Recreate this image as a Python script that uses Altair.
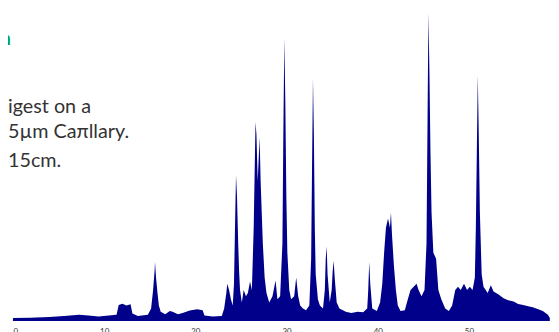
import altair as alt
import pandas as pd

# retention time (min) and intensity (% of max)
t_a = [0.0, 1.84, 4.0, 5.6, 7.25, 8.3, 9.4, 10.5, 11.36, 11.6, 12.0, 12.45, 12.9, 13.1, 13.7,
       14.8, 15.15, 15.37, 15.53, 15.58, 15.69, 15.85, 16.0, 16.2, 16.7, 17.2, 17.5, 18.1,
       18.6, 19.4, 20.2, 20.8, 21.0, 21.9, 22.9]
v_a = [1.0, 1.1, 1.3, 1.6, 2.0, 1.8, 1.5, 1.8, 2.0, 5.2, 5.6, 5.0, 5.4, 2.4, 1.6,
       2.0, 4.0, 10.0, 16.0, 19.0, 14.0, 9.0, 5.0, 3.0, 2.2, 3.2, 3.0, 2.2,
       2.6, 3.4, 3.8, 3.5, 1.8, 1.5, 1.6]

t_b = [23.16, 23.4, 23.5, 23.7, 23.9, 24.1, 24.24, 24.35, 24.46, 24.57, 24.7, 24.8, 24.9,
       25.1, 25.3, 25.55, 25.76, 26.0, 26.2, 26.4, 26.6, 26.7, 26.84, 27.05, 27.16, 27.4,
       27.6, 27.8, 28.1, 28.46, 28.8, 29.0, 29.3, 29.55, 29.65, 29.76, 29.87, 29.98, 30.09,
       30.3, 30.5, 30.84, 31.06, 31.28, 31.5, 31.8, 32.14, 32.5, 32.7, 32.8, 32.9, 33.0,
       33.1, 33.2, 33.44, 33.66, 34.0, 34.2, 34.3, 34.4, 34.5, 34.74, 34.95, 35.06, 35.17,
       35.28, 35.5, 35.8, 36.5, 37.1, 37.8, 38.4]
v_b = [4.0, 9.0, 12.0, 10.0, 7.0, 5.0, 12.0, 30.0, 47.0, 40.0, 25.0, 16.0, 10.0,
       6.0, 10.0, 8.0, 9.0, 12.7, 10.0, 30.0, 64.0, 60.0, 45.0, 59.0, 45.0, 25.0,
       14.0, 9.0, 6.0, 8.0, 13.0, 7.0, 8.0, 25.0, 60.0, 91.0, 70.0, 40.0, 22.0,
       10.0, 7.0, 8.0, 14.0, 8.0, 5.0, 4.0, 3.5, 5.0, 20.0, 50.0, 78.0, 60.0,
       30.0, 15.0, 7.0, 5.0, 4.0, 10.0, 20.0, 24.0, 15.0, 6.0, 10.0, 16.0, 19.4,
       14.0, 6.0, 4.0, 3.0, 2.6, 3.0, 2.8]

t_c = [38.85, 38.96, 39.07, 39.18, 39.4, 39.9, 40.26, 40.5, 40.7, 40.9, 41.13, 41.34, 41.45,
       41.56, 41.77, 41.99, 42.2, 42.5, 42.97, 43.3, 43.6, 43.94, 44.26, 44.48, 44.8, 45.13,
       45.35, 45.45, 45.56, 45.67, 45.78, 45.9, 46.1, 46.4, 46.65, 46.97, 47.4, 47.8]
v_c = [4.0, 10.0, 19.0, 12.0, 4.0, 3.2, 6.0, 12.0, 22.0, 30.0, 33.0, 30.0, 35.0,
       28.0, 18.0, 10.0, 5.0, 3.2, 3.5, 7.0, 10.0, 11.0, 12.0, 10.0, 8.0, 10.0,
       25.0, 60.0, 99.0, 80.0, 55.0, 35.0, 22.0, 20.0, 10.0, 7.0, 4.0, 3.2]

t_d = [48.16, 48.5, 48.8, 49.1, 49.46, 49.8, 50.1, 50.4, 50.65, 50.76, 50.87, 50.97, 51.08,
       51.2, 51.4, 51.6, 52.06, 52.4, 52.7, 53.25, 53.8, 54.3, 54.9, 55.4, 55.95, 56.5,
       57.0, 57.6, 58.1, 58.66, 58.87]
v_d = [5.0, 10.0, 11.0, 10.0, 12.0, 10.0, 11.0, 10.0, 14.0, 30.0, 55.0, 79.0, 60.0,
       35.0, 15.0, 11.0, 9.0, 11.5, 9.5, 8.5, 7.3, 6.7, 6.3, 5.5, 5.2, 4.8,
       4.4, 3.8, 3.2, 2.0, 1.0]

tick_values = [0, 10, 20, 30, 40, 50]

text_lines = ["igest on a", "5µm Caπllary.", "15cm."]
text_y = [104, 130, 159]

df = pd.DataFrame({"t": t_a + t_b + t_c + t_d, "v": v_a + v_b + v_c + v_d})

area = alt.Chart(df).mark_area(color="#00008b", interpolate="linear").encode(
    x=alt.X("t:Q", scale=alt.Scale(domain=[0, 59], nice=False, zero=False),
            axis=alt.Axis(values=tick_values, title=None, domain=False, ticks=False,
                          tickSize=0, grid=False, labelFontSize=8, labelColor="#333333",
                          labelPadding=7, labelFont="Lato")),
    y=alt.Y("v:Q", scale=alt.Scale(domain=[0, 100], nice=False), axis=None),
)

tdf = pd.DataFrame({"txt": text_lines, "py": text_y})
texts = alt.Chart(tdf).mark_text(
    align="left", baseline="alphabetic", font="Lato", fontSize=20, color="#333333"
).encode(x=alt.value(-5), y=alt.Y("py:Q", scale=None), text="txt:N")

green = alt.Chart(pd.DataFrame({"txt": ["n"]})).mark_text(
    align="right", baseline="alphabetic", font="Lato", fontSize=20, fontWeight="bold",
    color="#00a650"
).encode(x=alt.value(-2), y=alt.value(35), text="txt:N")

chart = alt.layer(area, texts, green).properties(
    width=545, height=315,
    autosize=alt.AutoSizeParams(type="none"),
    padding={"left": 5, "top": 0, "right": 0, "bottom": 9},
).configure_view(stroke=None)

chart.save("out.html", embed_options={"renderer": "svg", "actions": False})
